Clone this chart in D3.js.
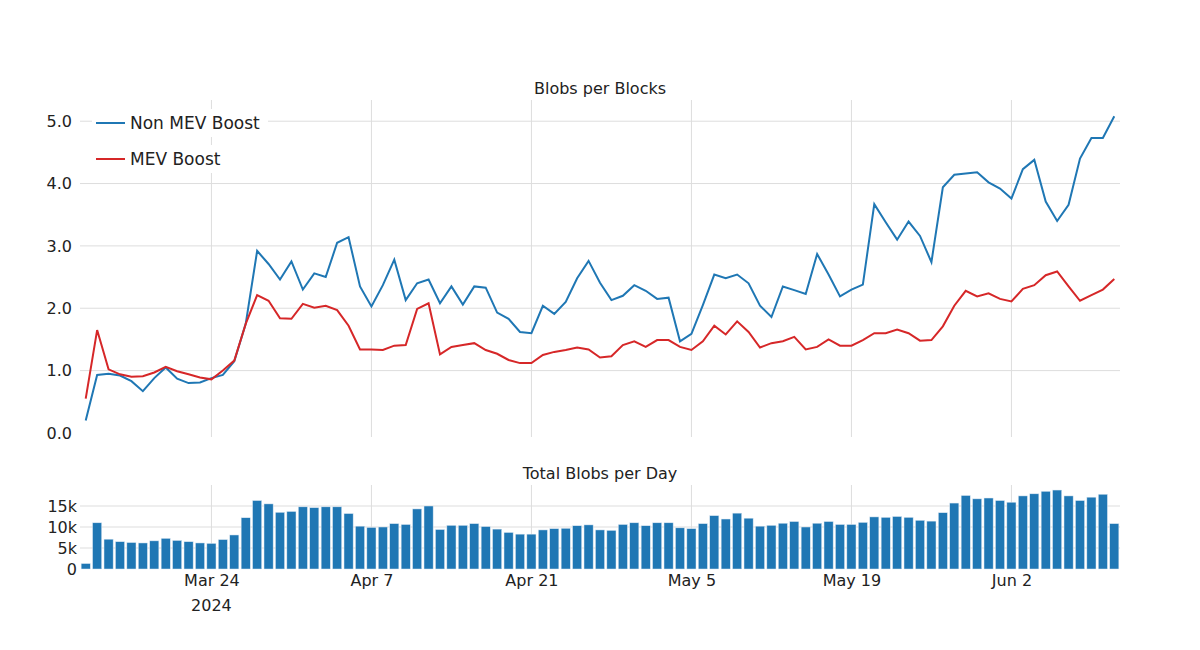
<!DOCTYPE html>
<html><head><meta charset="utf-8">
<script src="https://cdn.jsdelivr.net/npm/d3@7"></script>
<style>body{margin:0;background:#fff}text{font-family:"DejaVu Sans",sans-serif;fill:#222}</style>
</head><body><svg id="chart" width="1200" height="650"></svg>
<script>
const startDate = "2024-03-13";
const nonMev = [0.2,0.93,0.95,0.92,0.83,0.67,0.88,1.05,0.87,0.80,0.81,0.88,0.93,1.15,1.75,2.92,2.71,2.46,2.75,
  2.30,2.56,2.50,3.05,3.14,2.35,2.03,2.37,2.78,2.13,2.40,2.46,2.08,2.35,2.06,2.35,2.33,1.93,1.83,1.62,1.60,2.04,1.91,2.10,2.48,2.76,2.41,2.13,2.20,2.37,
  2.28,2.15,2.17,1.47,1.59,2.05,2.54,2.48,2.54,2.40,2.04,1.86,2.35,2.29,2.23,2.87,2.54,2.19,2.30,2.38,3.67,3.38,3.10,3.39,3.16,2.74,3.94,4.14,4.16,4.18,4.02,
  3.92,3.76,4.23,4.38,3.71,3.40,3.66,4.40,4.73,4.73,5.08];
const mev = [0.55,1.65,1.02,0.94,0.90,0.91,0.97,1.06,0.99,0.94,0.89,0.86,1.00,1.16,1.75,2.21,2.12,1.84,1.83,
  2.07,2.01,2.04,1.97,1.72,1.34,1.34,1.33,1.40,1.41,1.99,2.08,1.26,1.38,1.41,1.44,1.33,1.27,1.17,1.12,1.12,1.25,1.30,1.33,1.37,1.34,1.21,1.23,1.41,1.47,
  1.38,1.49,1.49,1.38,1.33,1.47,1.72,1.58,1.79,1.62,1.37,1.44,1.47,1.54,1.34,1.38,1.50,1.40,1.40,1.49,1.60,1.60,1.66,1.60,1.48,1.49,1.71,2.04,2.28,2.19,2.24,
  2.15,2.11,2.31,2.37,2.53,2.59,2.35,2.12,2.21,2.30,2.47];
const blobsK = [1.3,11.0,7.1,6.5,6.3,6.2,6.7,7.3,6.8,6.5,6.2,6.1,7.0,8.1,12.2,16.3,15.5,13.5,13.7,
  14.8,14.6,14.8,14.8,13.2,10.2,9.9,10.0,10.8,10.6,14.3,15.0,9.4,10.4,10.4,10.8,10.1,9.5,8.7,8.3,8.3,9.3,9.6,9.7,10.3,10.5,9.3,9.2,10.6,11.0,
  10.3,11.0,11.0,9.8,9.6,10.8,12.7,11.9,13.3,12.1,10.2,10.4,10.9,11.3,10.0,10.9,11.3,10.6,10.6,11.1,12.4,12.3,12.5,12.3,11.6,11.4,13.4,15.7,17.5,16.7,16.9,
  16.3,15.9,17.4,17.9,18.5,18.8,17.4,16.3,17.1,17.8,10.8];
const tickDates = ["2024-03-24","2024-04-07","2024-04-21","2024-05-05","2024-05-19","2024-06-02"];

const parse = d3.utcParse("%Y-%m-%d");
const days = nonMev.map((_, i) => d3.utcDay.offset(parse(startDate), i));
const svg = d3.select("#chart");
const x = d3.scaleUtc()
  .domain([d3.utcHour.offset(days[0], -12), d3.utcHour.offset(days[days.length - 1], 12)])
  .range([80, 1120]);
const yTop = d3.scaleLinear().domain([-0.065, 5.34]).range([437, 100]);
const yBot = d3.scaleLinear().domain([0, 20]).range([569, 485]);
const ticks = tickDates.map(parse);

// gridlines
svg.append("g").selectAll("line").data(ticks).join("line")
  .attr("x1", d => x(d)).attr("x2", d => x(d)).attr("y1", 100).attr("y2", 437)
  .attr("stroke", "#ddd");
svg.append("g").selectAll("line").data(ticks).join("line")
  .attr("x1", d => x(d)).attr("x2", d => x(d)).attr("y1", 485).attr("y2", 569)
  .attr("stroke", "#ddd");
svg.append("g").selectAll("line").data([1,2,3,4,5]).join("line")
  .attr("x1", 80).attr("x2", 1120).attr("y1", d => yTop(d)).attr("y2", d => yTop(d))
  .attr("stroke", "#ddd");
svg.append("g").selectAll("line").data([5,10,15]).join("line")
  .attr("x1", 80).attr("x2", 1120).attr("y1", d => yBot(d)).attr("y2", d => yBot(d))
  .attr("stroke", "#ddd");

// y axes
const yAxTop = svg.append("g").attr("transform", "translate(80,0)")
  .call(d3.axisLeft(yTop).tickValues([0,1,2,3,4,5]).tickSize(0).tickPadding(8));
const yAxBot = svg.append("g").attr("transform", "translate(80,0)")
  .call(d3.axisLeft(yBot).tickValues([0,5,10,15]).tickFormat(d => d ? d + "k" : "0").tickSize(0).tickPadding(3));
[yAxTop, yAxBot].forEach(a => { a.select(".domain").remove(); a.selectAll("text").attr("font-size", 16).attr("font-family", "DejaVu Sans").attr("fill", "#222"); });

// x axis
const xAx = svg.append("g").attr("transform", "translate(0,569)")
  .call(d3.axisBottom(x).tickValues(ticks).tickFormat(d3.utcFormat("%b %-d")).tickSize(0).tickPadding(6));
xAx.select(".domain").remove();
xAx.selectAll("text").attr("font-size", 16).attr("font-family", "DejaVu Sans").attr("fill", "#222");
svg.append("text").attr("x", x(ticks[0])).attr("y", 611).attr("text-anchor", "middle")
  .attr("font-size", 16).text("2024");

// bars
const bw = (x(days[1]) - x(days[0])) * 0.8;
svg.append("g").selectAll("rect").data(blobsK).join("rect")
  .attr("x", (d, i) => x(days[i]) - bw / 2).attr("width", bw)
  .attr("y", d => yBot(d)).attr("height", d => yBot(0) - yBot(d))
  .attr("fill", "#1f77b4").attr("stroke", "#dfe9f3").attr("stroke-width", 0.5);

// lines
const line = d3.line().x((d, i) => x(days[i])).y(d => yTop(d));
svg.append("path").datum(nonMev).attr("d", line).attr("fill", "none").attr("stroke", "#1f77b4").attr("stroke-width", 2);
svg.append("path").datum(mev).attr("d", line).attr("fill", "none").attr("stroke", "#d62728").attr("stroke-width", 2);

// titles
svg.append("text").attr("x", 600).attr("y", 94).attr("text-anchor", "middle").attr("font-size", 16).text("Blobs per Blocks");
svg.append("text").attr("x", 600).attr("y", 479).attr("text-anchor", "middle").attr("font-size", 16).text("Total Blobs per Day");

// legend
const leg = [["Non MEV Boost", "#1f77b4"], ["MEV Boost", "#d62728"]];
const lg = svg.append("g").selectAll("g").data(leg).join("g")
  .attr("transform", (d, i) => `translate(96,${123 + i * 36})`);
lg.append("rect").attr("x", -4).attr("y", -14).attr("width", d => d[0].length * 10 + 46).attr("height", 28).attr("fill", "#fff");
lg.append("line").attr("x1", 0).attr("x2", 29).attr("stroke", d => d[1]).attr("stroke-width", 2);
lg.append("text").attr("x", 34).attr("y", 6).attr("font-size", 17).text(d => d[0]);
</script></body></html>
